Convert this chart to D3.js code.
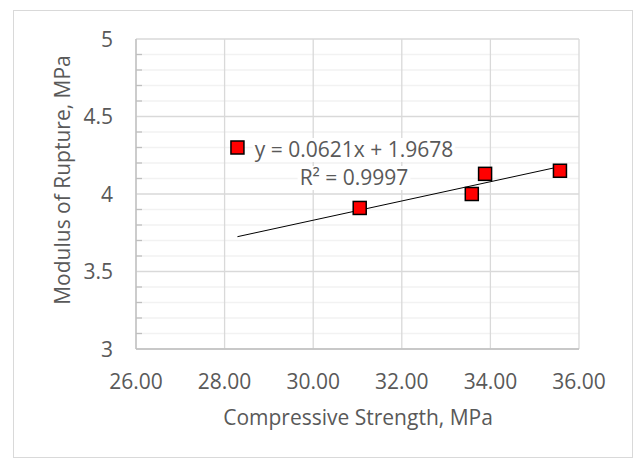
<!DOCTYPE html>
<html>
<head>
<meta charset="utf-8">
<script src="https://cdn.jsdelivr.net/npm/d3@7"></script>
<style>
  body { margin: 0; background: #fff; }
  text { font-family: "Open Sans", sans-serif; fill: #595959; }
</style>
</head>
<body>
<div id="chart"></div>
<script>
// data
var strength = [28.29, 31.05, 33.58, 33.88, 35.57];
var rupture  = [4.30, 3.91, 4.00, 4.13, 4.15];
var xTicks = [26, 28, 30, 32, 34, 36];
var yTicks = [3, 3.5, 4, 4.5, 5];
var slope = 0.0621, intercept = 1.9678;
var eqLabel = 'y = 0.0621x + 1.9678';
var r2Label = 'R² = 0.9997';

var W = 637, H = 459;
var m = { left: 136, top: 39, right: 58, bottom: 110 };

var svg = d3.select('#chart').append('svg').attr('width', W).attr('height', H);

// chart frame
svg.append('rect')
    .attr('x', 13.5).attr('y', 10.5).attr('width', 619).attr('height', 447)
    .attr('fill', '#fff').attr('stroke', '#d9d9d9');

var x = d3.scaleLinear().domain([26, 36]).range([m.left, W - m.right]);
var y = d3.scaleLinear().domain([3, 5]).range([H - m.bottom, m.top]);

var g = svg.append('g');

// minor horizontal grid every 0.1
var minor = d3.range(3.1, 5, 0.1).filter(function (v) { return Math.abs(v * 2 - Math.round(v * 2)) > 0.01; });
g.selectAll('.minor').data(minor).enter().append('line')
    .attr('x1', x(26)).attr('x2', x(36))
    .attr('y1', function (d) { return y(d); }).attr('y2', function (d) { return y(d); })
    .attr('stroke', '#f2f2f2').attr('stroke-width', 1.3);

// major grid
g.selectAll('.hmaj').data(yTicks).enter().append('line')
    .attr('x1', x(26)).attr('x2', x(36))
    .attr('y1', function (d) { return y(d); }).attr('y2', function (d) { return y(d); })
    .attr('stroke', '#d9d9d9').attr('stroke-width', 1.3);
g.selectAll('.vmaj').data(xTicks).enter().append('line')
    .attr('y1', y(3)).attr('y2', y(5))
    .attr('x1', function (d) { return x(d); }).attr('x2', function (d) { return x(d); })
    .attr('stroke', '#d9d9d9').attr('stroke-width', 1.3);

// minor tick marks on the y axis
g.selectAll('.mtick').data(minor).enter().append('line')
    .attr('x1', x(26)).attr('x2', x(26) + 6)
    .attr('y1', function (d) { return y(d); }).attr('y2', function (d) { return y(d); })
    .attr('stroke', '#bfbfbf').attr('stroke-width', 1.3);

// axes lines
g.append('line').attr('x1', x(26)).attr('x2', x(26)).attr('y1', y(3)).attr('y2', y(5))
    .attr('stroke', '#bfbfbf').attr('stroke-width', 1.3);
g.append('line').attr('x1', x(26)).attr('x2', x(36)).attr('y1', y(3)).attr('y2', y(3))
    .attr('stroke', '#bfbfbf').attr('stroke-width', 1.3);

// tick labels
svg.selectAll('.xl').data(xTicks).enter().append('text')
    .attr('x', function (d) { return x(d); }).attr('y', y(3) + 40)
    .attr('text-anchor', 'middle').style('font-size', '21px')
    .text(function (d) { return d3.format('.2f')(d); });
svg.selectAll('.yl').data(yTicks).enter().append('text')
    .attr('x', x(26) - 23).attr('y', function (d) { return y(d) + 7.5; })
    .attr('text-anchor', 'end').style('font-size', '21px')
    .text(function (d) { return d; });

// axis titles
svg.append('text').attr('x', 358).attr('y', 425)
    .attr('text-anchor', 'middle').style('font-size', '21px')
    .text('Compressive Strength, MPa');
svg.append('text')
    .attr('transform', 'translate(70,180) rotate(-90)')
    .attr('text-anchor', 'middle').style('font-size', '21px')
    .text('Modulus of Rupture, MPa');

// trendline
var xMin = d3.min(strength), xMax = d3.max(strength);
g.append('line')
    .attr('x1', x(xMin)).attr('y1', y(slope * xMin + intercept))
    .attr('x2', x(xMax)).attr('y2', y(slope * xMax + intercept))
    .attr('stroke', '#000').attr('stroke-width', 1);

// equation label with white background
var eq = svg.append('g').attr('transform', 'translate(354,157)');
var t1 = eq.append('text').attr('text-anchor', 'middle').style('font-size', '21px').text(eqLabel);
var t2 = eq.append('text').attr('y', 28).attr('text-anchor', 'middle').style('font-size', '21px').text(r2Label);
[t1, t2].forEach(function (t) {
    var b = t.node().getBBox();
    eq.insert('rect', 'text').attr('x', b.x - 2).attr('y', b.y + 3).attr('width', b.width + 4).attr('height', b.height - 4).attr('fill', '#fff');
});

// points
var s = 13;
g.selectAll('.pt').data(strength).enter().append('rect')
    .attr('x', function (d) { return x(d) - s / 2; })
    .attr('y', function (d, i) { return y(rupture[i]) - s / 2; })
    .attr('width', s).attr('height', s)
    .attr('fill', '#ff0000').attr('stroke', '#000').attr('stroke-width', 1.5);
</script>
</body>
</html>
